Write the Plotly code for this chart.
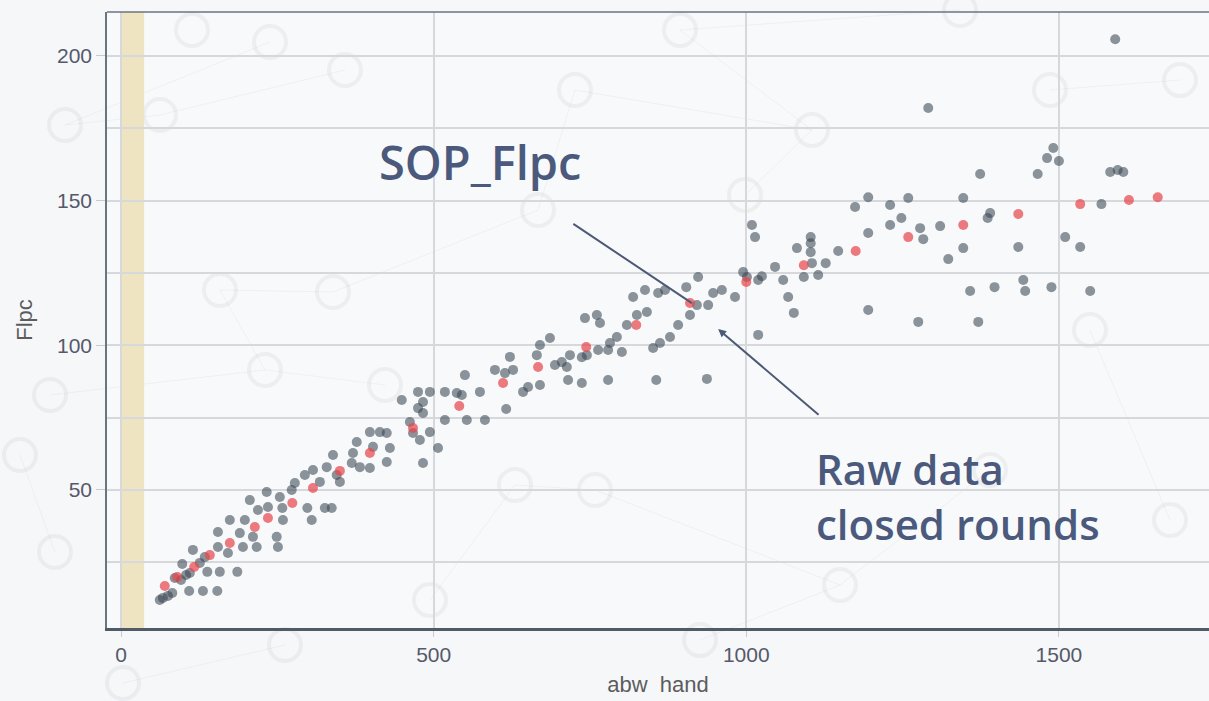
import plotly.graph_objects as go

# ---- SOP curve (red) ----
sop_x = [70, 90, 117, 142, 174, 214, 235, 274, 307, 350, 398, 467, 541, 611, 667,
         744, 824, 910, 1000, 1092, 1175, 1259, 1347, 1435, 1534, 1612, 1658]
sop_y = [16.8, 19.9, 23.4, 27.5, 31.7, 37.2, 40.3, 45.5, 50.7, 56.6, 62.8, 71.4, 79.0,
         87.0, 92.5, 99.4, 107.0, 114.6, 121.9, 127.7, 132.6, 137.4, 141.6, 145.4,
         148.8, 150.2, 151.2]

# ---- raw data, closed rounds (grey) ----
raw_x = [62, 67, 75, 82, 86, 96, 104, 126,
         109, 131, 154, 138, 158, 186, 98, 110, 115, 134, 155, 155, 174, 171, 190, 195,
         198, 206, 211, 217, 219, 233, 235, 249, 251, 258, 254, 259, 273, 278, 294, 298,
         307, 305, 318, 326, 337, 329, 339, 345, 350, 369, 371, 377, 382, 398, 403, 398,
         414, 425, 425, 430,
         449, 462, 467, 478, 494, 475, 494, 475, 483, 483, 483, 507, 518, 518, 537, 545,
         550, 553, 574, 582, 598, 614, 622, 627, 616, 643, 651, 670, 665, 670, 686, 694,
         705, 713, 718, 715, 737, 737, 745, 742, 761, 766, 763, 779, 782, 793, 779, 801,
         809, 825, 841, 851, 862, 878, 856, 891,
         937, 819, 838, 859, 870, 910, 904, 923, 921, 939, 947, 961, 982, 995, 1001, 1009,
         1014, 1019, 1025, 1019, 1046, 1059, 1067, 1076, 1081, 1092, 1103, 1103, 1103,
         1105, 1115, 1127, 1147, 1174, 1195, 1195, 1230, 1230, 1195,
         1590, 1291, 1491, 1481, 1500, 1374, 1466, 1582, 1603, 1594, 1259, 1347, 1248,
         1278, 1283, 1310, 1386, 1390, 1347, 1323, 1435, 1510, 1534, 1568, 1358, 1397,
         1443, 1446, 1488, 1550, 1275, 1371]
raw_y = [12.0, 12.7, 13.4, 14.4, 19.6, 18.9, 20.6, 24.8,
         15.1, 15.1, 15.1, 21.7, 21.7, 21.7, 24.4, 21.3, 29.3, 26.8, 30.3, 35.5, 39.6,
         28.2, 35.1, 30.3, 39.6, 46.5, 33.8, 30.3, 43.1, 49.3, 44.1, 33.8, 30.3, 43.8,
         47.6, 39.6, 50.0, 52.4, 55.2, 43.8, 56.9, 39.6, 52.8, 43.8, 43.8, 57.9, 62.1,
         55.2, 52.8, 59.3, 62.8, 66.6, 57.9, 57.6, 64.9, 70.0, 70.0, 69.7, 59.7, 64.5,
         81.1, 73.5, 69.7, 67.3, 70.0, 83.9, 83.9, 78.3, 80.4, 76.6, 59.3, 64.5, 83.9,
         74.2, 83.5, 82.8, 89.7, 74.2, 83.9, 74.2, 91.5, 90.4, 96.0, 91.5, 78.0, 83.9,
         85.6, 86.3, 96.6, 100.1, 102.5, 93.2, 94.2, 92.5, 96.6, 88.0, 95.9, 87.0, 96.6,
         109.4, 110.5, 107.7, 98.4, 98.4, 100.8, 102.9, 88.0, 97.7, 107.0, 110.5, 111.5,
         99.1, 100.8, 102.9, 88.0, 107.0,
         88.4, 116.7, 119.1, 118.1, 119.1, 110.5, 120.1, 123.6, 113.9, 113.9, 118.1,
         119.1, 116.7, 125.3, 123.6, 141.6, 137.4, 122.6, 123.9, 103.6, 127.1, 122.6,
         116.7, 111.2, 133.6, 123.6, 137.4, 135.3, 132.2, 128.4, 124.3, 128.4, 132.6,
         147.8, 151.2, 138.8, 148.5, 141.6, 112.2,
         205.8, 182.0, 168.2, 164.7, 163.7, 159.2, 159.2, 159.9, 159.9, 160.6, 150.9,
         150.9, 144.0, 140.5, 136.7, 141.2, 144.0, 145.7, 133.6, 129.8, 134.0, 137.4,
         134.0, 148.8, 118.8, 120.1, 122.6, 118.8, 120.1, 118.8, 108.1, 108.1]

x_ticks = [0, 500, 1000, 1500]
y_ticks = [50, 100, 150, 200]

BG = "#f6f7f9"
INK = "#4b5a7c"

fig = go.Figure()

fig.add_trace(go.Scatter(
    x=raw_x, y=raw_y, mode="markers", name="Raw data",
    marker=dict(size=10, color="rgba(58,71,85,0.58)", line=dict(width=0)),
    hoverinfo="x+y",
))
fig.add_trace(go.Scatter(
    x=sop_x, y=sop_y, mode="markers", name="SOP_Flpc",
    marker=dict(size=10, color="rgba(232,70,76,0.72)", line=dict(width=0)),
    hoverinfo="x+y",
))

# faint network decoration behind everything (paper units)
L, R, T, B = 107, 1209, 12, 628
def px(xp, yp):
    return (xp - L) / (R - L), (B - yp) / (B - T)

deco_nodes = [(65, 125), (345, 70), (220, 290), (333, 292), (265, 370), (50, 395),
              (538, 210), (575, 90), (745, 195), (812, 130), (1050, 90), (1180, 80),
              (960, 10), (515, 485), (595, 490), (840, 585), (55, 552), (20, 455),
              (285, 645), (123, 683), (192, 30), (270, 42), (160, 115), (680, 30),
              (1090, 330), (1170, 520), (430, 600), (700, 640), (990, 470), (385, 385)]
deco_links = [(0, 21), (2, 3), (2, 4), (4, 5), (6, 7), (7, 9), (8, 9), (10, 11),
              (13, 14), (14, 15), (16, 17), (18, 19), (1, 22), (22, 0), (23, 9),
              (24, 25), (26, 13), (27, 15), (28, 15), (29, 4), (3, 6), (12, 23)]

shapes = []
for a, b in deco_links:
    x0, y0 = px(*deco_nodes[a])
    x1, y1 = px(*deco_nodes[b])
    shapes.append(dict(type="line", xref="paper", yref="paper", x0=x0, y0=y0, x1=x1, y1=y1,
                       line=dict(color="rgba(190,195,202,0.16)", width=1), layer="below"))
for cx, cy in deco_nodes:
    x0, y0 = px(cx - 16, cy + 16)
    x1, y1 = px(cx + 16, cy - 16)
    shapes.append(dict(type="circle", xref="paper", yref="paper", x0=x0, y0=y0, x1=x1, y1=y1,
                       line=dict(color="rgba(190,195,202,0.2)", width=4), layer="below"))

# highlighted band near zero
shapes.append(dict(type="rect", xref="x", yref="paper", x0=0, x1=37, y0=0, y1=1,
                   fillcolor="#efe4c2", line=dict(width=0), layer="below"))
# top frame line
shapes.append(dict(type="line", xref="paper", yref="paper", x0=0, x1=1, y0=1, y1=1,
                   line=dict(color="#6b7580", width=1.5)))

TXT = dict(family="Open Sans", color=INK, weight=600)
annotations = [
    dict(x=913, y=114.6, ax=721, ay=142.3, xref="x", yref="y", axref="x", ayref="y",
         showarrow=True, arrowhead=0, arrowwidth=2, arrowcolor="#4d5a76", text=""),
    dict(x=955, y=105.6, ax=1118, ay=75.6, xref="x", yref="y", axref="x", ayref="y",
         showarrow=True, arrowhead=2, arrowsize=0.8, arrowwidth=2, arrowcolor="#4d5a76",
         text=""),
    dict(x=410, y=163.5, xref="x", yref="y", xanchor="left", yanchor="middle",
         showarrow=False, text="SOP_Flpc", font=dict(size=47, **TXT)),
    dict(x=1108, y=48.0, xref="x", yref="y", xanchor="left", yanchor="middle",
         showarrow=False, text="Raw data<br>closed rounds", align="left",
         font=dict(size=42, **TXT)),
]

fig.update_layout(
    width=1209, height=701,
    margin=dict(l=L, r=0, t=T, b=701 - B),
    paper_bgcolor=BG, plot_bgcolor="#f8f9fb",
    showlegend=False,
    shapes=shapes,
    annotations=annotations,
    font=dict(family="Arial", color="#5c5c5c"),
)
fig.update_xaxes(
    range=[-22.4, 1740], tickvals=x_ticks, ticktext=[str(v) for v in x_ticks],
    showgrid=True, gridcolor="#d6d8dc", gridwidth=1.5, zeroline=False,
    showline=True, linecolor="#4f5b67", linewidth=3,
    ticks="outside", ticklen=6, tickcolor="#c8cacd",
    tickfont=dict(size=21, color="#55596a"),
    title=dict(text="abw\u00a0\u00a0hand", font=dict(size=22, color="#5c5c5c"), standoff=12),
)
fig.update_yaxes(
    range=[2.3, 215.2], tickvals=y_ticks, ticktext=[str(v) for v in y_ticks],
    showgrid=True, gridcolor="#d6d8dc", gridwidth=1.5, zeroline=False,
    minor=dict(tickvals=[25, 75, 125, 175], showgrid=True, gridcolor="#d6d8dc", gridwidth=1.5),
    showline=True, linecolor="#6b7580", linewidth=1.5,
    ticks="outside", ticklen=9, tickcolor="#c8cacd",
    tickfont=dict(size=21, color="#55596a"),
    title=dict(text="Flpc", font=dict(size=22, color="#5c5c5c"), standoff=18),
)

fig.write_html("out.html")
